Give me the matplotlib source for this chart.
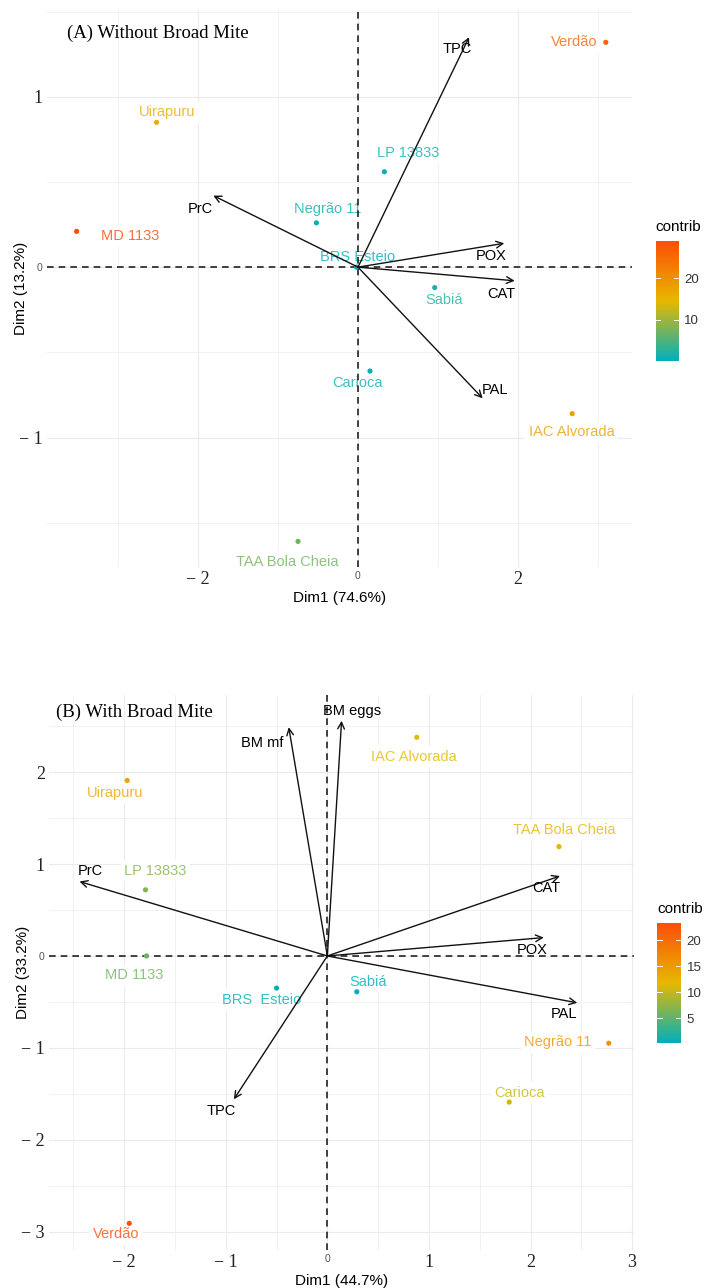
import matplotlib
matplotlib.use("Agg")
import matplotlib.pyplot as plt
from matplotlib.colors import LinearSegmentedColormap, Normalize
from matplotlib.patches import FancyArrowPatch
from matplotlib.cm import ScalarMappable

# Panel A: without broad mite
a_names = ['Verdão', 'Uirapuru', 'LP 13833', 'Negrão 11', 'MD 1133', 'BRS Esteio',
           'Sabiá', 'Carioca', 'IAC Alvorada', 'TAA Bola Cheia']
a_x = [3.10, -2.52, 0.33, -0.52, -3.52, -0.02, 0.96, 0.15, 2.68, -0.75]
a_y = [1.32, 0.85, 0.56, 0.26, 0.21, 0.00, -0.12, -0.61, -0.86, -1.61]
a_contrib = [26.0, 16.1, 1.0, 0.8, 29.0, 0.1, 2.1, 0.9, 18.0, 7.2]
a_lab_x = [2.71, -2.39, 0.63, -0.38, -2.85, 0.00, 1.08, 0.00, 2.67, -0.88]
a_lab_y = [1.32, 0.91, 0.67, 0.34, 0.18, 0.06, -0.19, -0.68, -0.97, -1.73]

a_vars = ['TPC', 'PrC', 'POX', 'CAT', 'PAL']
a_vx = [1.39, -1.81, 1.83, 1.96, 1.56]
a_vy = [1.35, 0.42, 0.14, -0.08, -0.77]
a_vlab_x = [1.24, -1.97, 1.67, 1.79, 1.71]
a_vlab_y = [1.28, 0.34, 0.065, -0.16, -0.72]

# Panel B: with broad mite
b_names = ['IAC Alvorada', 'Uirapuru', 'TAA Bola Cheia', 'LP 13833', 'MD 1133',
           'BRS  Esteio', 'Sabiá', 'Negrão 11', 'Carioca', 'Verdão']
b_x = [0.88, -1.97, 2.28, -1.79, -1.78, -0.50, 0.29, 2.77, 1.79, -1.95]
b_y = [2.38, 1.91, 1.19, 0.72, 0.00, -0.35, -0.39, -0.95, -1.59, -2.91]
b_contrib = [11.8, 13.8, 12.1, 6.8, 5.8, 0.7, 0.3, 15.7, 10.5, 23.3]
b_lab_x = [0.85, -2.09, 2.33, -1.69, -1.90, -0.65, 0.40, 2.27, 1.89, -2.08]
b_lab_y = [2.17, 1.77, 1.37, 0.93, -0.21, -0.48, -0.28, -0.94, -1.49, -3.03]

b_vars = ['BM eggs', 'BM mf', 'PrC', 'CAT', 'POX', 'PAL', 'TPC']
b_vx = [0.14, -0.38, -2.44, 2.29, 2.13, 2.46, -0.92]
b_vy = [2.56, 2.49, 0.81, 0.87, 0.20, -0.51, -1.56]
b_vlab_x = [0.24, -0.64, -2.33, 2.16, 2.02, 2.33, -1.04]
b_vlab_y = [2.67, 2.32, 0.93, 0.74, 0.065, -0.63, -1.69]

CMAP = LinearSegmentedColormap.from_list('contrib', ['#00AFBB', '#E7B800', '#FC4E07'])
SANS = 'Liberation Sans'
SERIF = 'Liberation Serif'


def fmt_tick(v):
    if v == 0:
        return '0'
    return '\u2212 ' + str(abs(v)) if v < 0 else str(v)


def style_labels(labels, values):
    # serif numbers, with a small grey sans '0'
    for lab, v in zip(labels, values):
        if v == 0:
            lab.set_fontfamily(SANS)
            lab.set_fontsize(7.5)
            lab.set_color('#555555')
        else:
            lab.set_fontfamily(SERIF)
            lab.set_fontsize(13)
            lab.set_color('#222222')


def draw_panel(ax, cax, title, title_xy, xlim, ylim, xticks, yticks, xminor, yminor,
               names, xs, ys, contrib, lab_x, lab_y,
               variables, vx, vy, vlab_x, vlab_y, xlabel, ylabel, cticks):
    norm = Normalize(vmin=min(contrib), vmax=max(contrib))

    ax.set_xlim(*xlim)
    ax.set_ylim(*ylim)
    for s in ax.spines.values():
        s.set_visible(False)

    # light grid like theme_minimal
    for v in list(xticks) + list(xminor):
        ax.axvline(v, color='#EBEBEB', lw=0.8 if v in xticks else 0.5, zorder=0)
    for v in list(yticks) + list(yminor):
        ax.axhline(v, color='#EBEBEB', lw=0.8 if v in yticks else 0.5, zorder=0)

    ax.axhline(0, color='#222222', lw=1.2, ls=(0, (4, 3)), zorder=2.5)
    ax.axvline(0, color='#222222', lw=1.2, ls=(0, (4, 3)), zorder=2.5)

    # individuals
    colors = [CMAP(norm(c)) for c in contrib]
    ax.scatter(xs, ys, s=14, c=colors, zorder=3, linewidths=0)
    for name, x, y, c in zip(names, lab_x, lab_y, colors):
        ax.text(x, y, name, color=c, alpha=0.8, fontsize=10.5, family=SANS,
                ha='center', va='center', zorder=2,
                bbox=dict(facecolor='white', edgecolor='none', pad=2.5))

    # variable arrows
    for name, x, y, lx, ly in zip(variables, vx, vy, vlab_x, vlab_y):
        arr = FancyArrowPatch((0, 0), (x, y), arrowstyle='->', mutation_scale=12,
                              color='#111111', lw=1.0, zorder=5, shrinkA=0, shrinkB=0)
        ax.add_patch(arr)
        ax.text(lx, ly, name, color='black', fontsize=10.5, family=SANS,
                ha='center', va='center', zorder=6)

    ax.text(title_xy[0], title_xy[1], title, family=SERIF, fontsize=13.5,
            ha='left', va='center', zorder=6)

    ax.set_xticks(xticks)
    ax.set_xticklabels([fmt_tick(v) for v in xticks])
    ax.set_yticks(yticks)
    ax.set_yticklabels([fmt_tick(v) for v in yticks])
    style_labels(ax.get_xticklabels(), xticks)
    style_labels(ax.get_yticklabels(), yticks)
    ax.tick_params(length=0, pad=3)
    ax.set_xlabel(xlabel, family=SANS, fontsize=11, labelpad=2)
    ax.set_ylabel(ylabel, family=SANS, fontsize=11)
    ax.yaxis.set_label_coords(-0.033, 0.5)

    # colour bar for contributions
    sm = ScalarMappable(norm=norm, cmap=CMAP)
    cb = plt.colorbar(sm, cax=cax, ticks=cticks)
    cb.outline.set_visible(False)
    cb.ax.tick_params(length=0, labelsize=9.5, pad=4)
    for t in cb.ax.get_yticklabels():
        t.set_fontfamily(SANS)
        t.set_color('#333333')
    for t in cticks:
        cb.ax.plot([0.0, 0.2], [t, t], color='white', lw=0.7, transform=cb.ax.get_yaxis_transform())
        cb.ax.plot([0.8, 1.0], [t, t], color='white', lw=0.7, transform=cb.ax.get_yaxis_transform())
    cax.text(0, 1.06, 'contrib', transform=cax.transAxes, family=SANS, fontsize=11,
             ha='left', va='bottom')


def main():
    fig = plt.figure(figsize=(7.05, 12.88), dpi=100)

    ax_a = fig.add_axes([0.0667, 0.5598, 0.830, 0.4325])
    cax_a = fig.add_axes([0.930, 0.7197, 0.0326, 0.0932])
    draw_panel(ax_a, cax_a, '(A) Without Broad Mite', (-3.64, 1.375),
               (-3.89, 3.43), (-1.76, 1.51), [-2, 0, 2], [-1, 0, 1],
               [-3, -1, 1, 3], [-1.5, -0.5, 0.5, 1.5],
               a_names, a_x, a_y, a_contrib, a_lab_x, a_lab_y,
               a_vars, a_vx, a_vy, a_vlab_x, a_vlab_y,
               'Dim1 (74.6%)', 'Dim2 (13.2%)', [10, 20])

    ax_b = fig.add_axes([0.0695, 0.0295, 0.830, 0.4309])
    cax_b = fig.add_axes([0.932, 0.1902, 0.0340, 0.0932])
    draw_panel(ax_b, cax_b, '(B) With Broad Mite', (-2.67, 2.65),
               (-2.74, 3.02), (-3.20, 2.84), [-2, -1, 0, 1, 2, 3], [-3, -2, -1, 0, 1, 2],
               [-2.5, -1.5, -0.5, 0.5, 1.5, 2.5], [-2.5, -1.5, -0.5, 0.5, 1.5, 2.5],
               b_names, b_x, b_y, b_contrib, b_lab_x, b_lab_y,
               b_vars, b_vx, b_vy, b_vlab_x, b_vlab_y,
               'Dim1 (44.7%)', 'Dim2 (33.2%)', [5, 10, 15, 20])

    fig.savefig('out.png', dpi=100)


if __name__ == "__main__":
    main()
